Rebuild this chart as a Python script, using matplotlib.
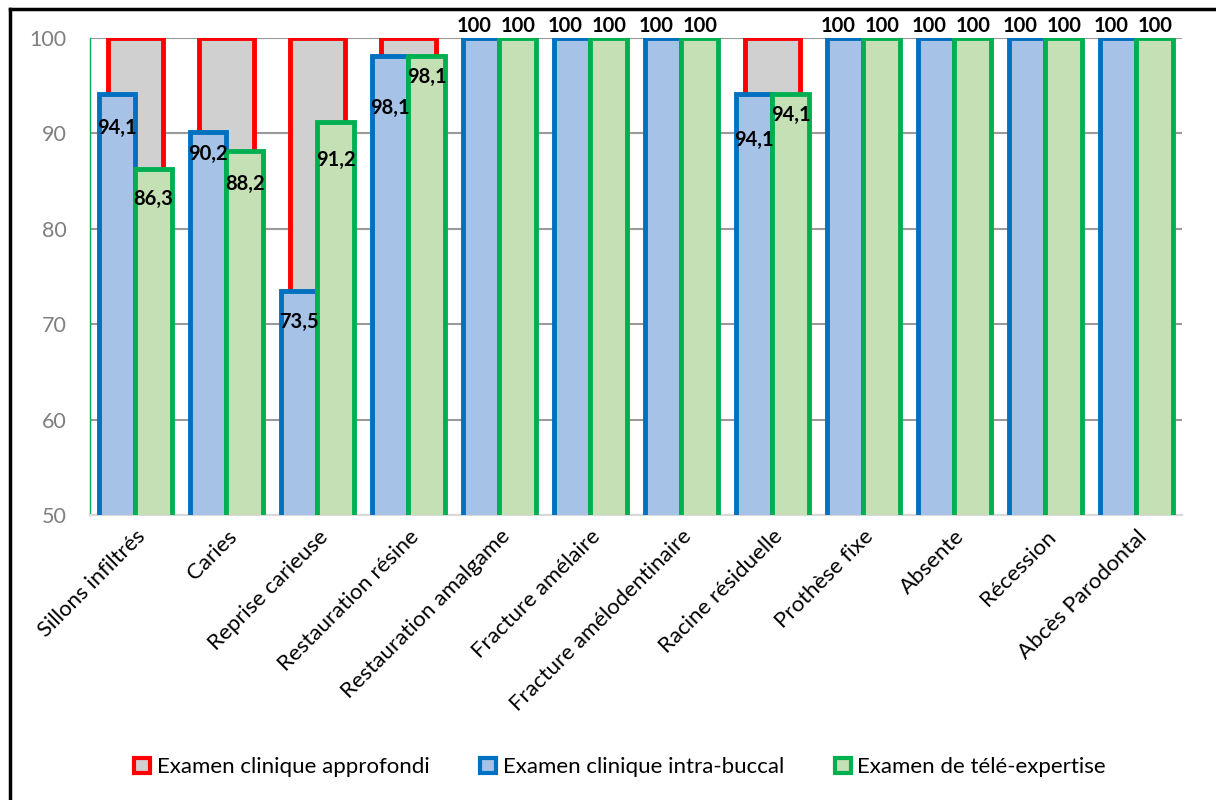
import matplotlib.pyplot as plt
import numpy as np
from matplotlib.patches import Patch
from matplotlib.lines import Line2D

plt.rcParams['font.family'] = ['Lato', 'DejaVu Sans']

# Data
categories = ['Sillons infiltrés', 'Caries', 'Reprise carieuse', 'Restauration résine',
              'Restauration amalgame', 'Fracture amélaire', 'Fracture amélodentinaire',
              'Racine résiduelle', 'Prothèse fixe', 'Absente', 'Récession', 'Abcès Parodontal']
approfondi = [100, 100, 100, 100, 100, 100, 100, 100, 100, 100, 100, 100]
intra_buccal = [94.1, 90.2, 73.5, 98.1, 100, 100, 100, 94.1, 100, 100, 100, 100]
tele_expertise = [86.3, 88.2, 91.2, 98.1, 100, 100, 100, 94.1, 100, 100, 100, 100]
series_names = ['Examen clinique approfondi', 'Examen clinique intra-buccal',
                'Examen de télé-expertise']

# label vertical offsets (data units) for values below 100
blue_off = [-3.5, -2.4, -3.3, -5.4, 0, 0, 0, -4.8, 0, 0, 0, 0]
green_off = [-3.2, -3.5, -4.0, -2.2, 0, 0, 0, -2.2, 0, 0, 0, 0]

red_edge, red_fill = '#FF0000', '#D0D0D0'
blue_edge, blue_fill = '#0070C0', '#A6C2E7'
green_edge, green_fill = '#00B050', '#C5E0B4'

fig = plt.figure(figsize=(12.16, 8), dpi=100)
ax = fig.add_axes([0.074, 0.356, 0.898, 0.5965])

x = np.arange(len(categories))
w = 0.40
lw = 3.5

ax.bar(x, approfondi, width=0.60, color=red_fill, edgecolor=red_edge, linewidth=lw, zorder=2)
ax.bar(x - w / 2, intra_buccal, width=w, color=blue_fill, edgecolor=blue_edge, linewidth=lw, zorder=3)
ax.bar(x + w / 2, tele_expertise, width=w, color=green_fill, edgecolor=green_edge, linewidth=lw, zorder=4)

def fmt(v):
    return ('%g' % v).replace('.', ',')

for i in range(len(categories)):
    for xx, v, off, dx in [(x[i] - w / 2, intra_buccal[i], blue_off[i], -0.08),
                           (x[i] + w / 2, tele_expertise[i], green_off[i], 0.0)]:
        if v >= 100:
            xx, yy = xx + dx, v + 1.3
        else:
            yy = v + off
        ax.text(xx, yy, fmt(v), ha='center', va='center', fontsize=14.5,
                fontweight='bold', color='black', zorder=6, clip_on=False)

ax.set_ylim(50, 100)
ax.set_xlim(-0.5, len(categories) - 0.5)
ax.set_yticks([50, 60, 70, 80, 90, 100])
ax.yaxis.grid(True, color='#9A9A9A', linewidth=1.5, zorder=0)
ax.set_axisbelow(True)
ax.tick_params(axis='y', length=0, labelsize=15.5, labelcolor='#7F7F7F', pad=17)
ax.tick_params(axis='x', length=0, labelsize=16, pad=8)
ax.set_xticks(x)
ax.set_xticklabels(categories, rotation=45, ha='right', rotation_mode='anchor')

for s in ['top', 'right']:
    ax.spines[s].set_visible(False)
ax.spines['left'].set_color(green_edge)
ax.spines['left'].set_linewidth(1)
ax.spines['bottom'].set_color('#D9D9D9')
ax.spines['bottom'].set_linewidth(1.5)

handles = [Patch(facecolor=red_fill, edgecolor=red_edge, linewidth=3),
           Patch(facecolor=blue_fill, edgecolor=blue_edge, linewidth=3),
           Patch(facecolor=green_fill, edgecolor=green_edge, linewidth=3)]
fig.legend(handles, series_names, loc='center', bbox_to_anchor=(0.51, 0.041), ncol=3,
           frameon=False, fontsize=16, handlelength=0.7, handleheight=0.7,
           handletextpad=0.3, columnspacing=2.3)

# outer frame (left and top)
fig.add_artist(Line2D([0.0082, 0.0082], [0, 0.989], color='black', linewidth=2.5))
fig.add_artist(Line2D([0.0082, 1], [0.989, 0.989], color='black', linewidth=2.5))

fig.savefig('out.png', dpi=100)
